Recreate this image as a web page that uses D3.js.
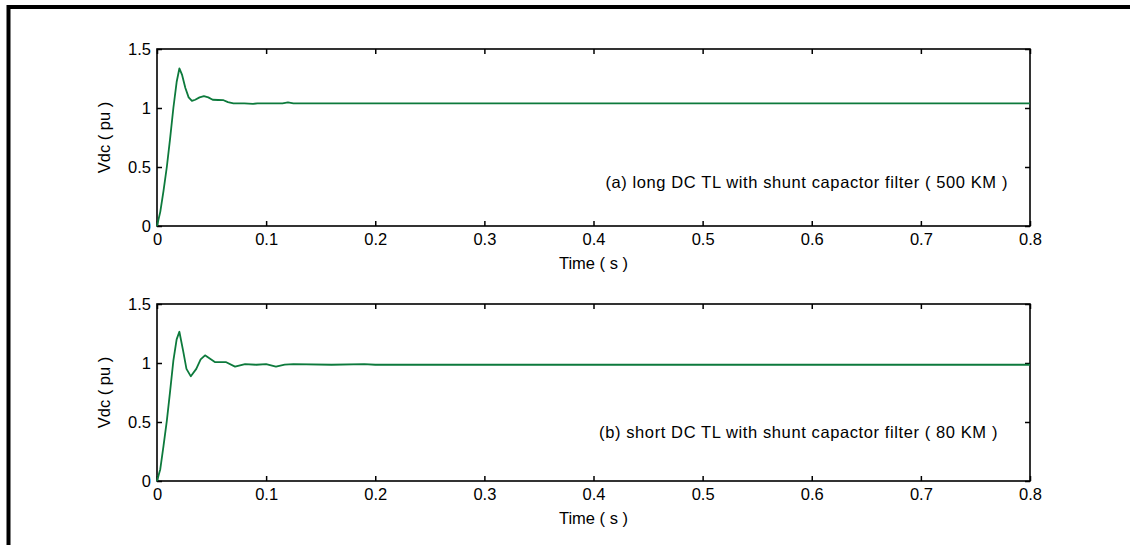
<!DOCTYPE html>
<html>
<head>
<meta charset="utf-8">
<script src="https://cdn.jsdelivr.net/npm/d3@7"></script>
<style>
  html, body { margin: 0; padding: 0; background: #fff; }
  svg { display: block; }
  text { font-family: "Liberation Sans", Arial, sans-serif; fill: #000; }
</style>
</head>
<body>
<svg id="chart" width="1130" height="545"></svg>
<script>
// DC-link voltage response, long line (500 km)
const timeLong = [0, 0.003, 0.006, 0.009, 0.012, 0.015, 0.018, 0.0205, 0.023, 0.026, 0.029, 0.032, 0.035,
  0.039, 0.043, 0.047, 0.051, 0.056, 0.061, 0.065, 0.070, 0.080, 0.088, 0.092, 0.10, 0.115, 0.12, 0.125, 0.20, 0.40, 0.60, 0.80];
const vdcLong = [0, 0.12, 0.30, 0.50, 0.74, 1.00, 1.22, 1.335, 1.28, 1.17, 1.09, 1.06, 1.07,
  1.09, 1.10, 1.09, 1.07, 1.068, 1.066, 1.05, 1.04, 1.04, 1.035, 1.04, 1.04, 1.04, 1.048, 1.04, 1.04, 1.04, 1.04, 1.04];

// DC-link voltage response, short line (80 km)
const timeShort = [0, 0.003, 0.006, 0.009, 0.012, 0.015, 0.018, 0.0205, 0.024, 0.027, 0.031, 0.036, 0.040,
  0.044, 0.048, 0.053, 0.063, 0.0715, 0.0807, 0.091, 0.10, 0.109, 0.117, 0.125, 0.16, 0.19, 0.20, 0.31, 0.50, 0.70, 0.80];
const vdcShort = [0, 0.10, 0.30, 0.51, 0.76, 1.02, 1.20, 1.265, 1.10, 0.95, 0.887, 0.95, 1.03,
  1.065, 1.04, 1.008, 1.008, 0.969, 0.99, 0.985, 0.99, 0.97, 0.987, 0.99, 0.985, 0.99, 0.985, 0.985, 0.985, 0.985, 0.985];

const xTicks = [0, 0.1, 0.2, 0.3, 0.4, 0.5, 0.6, 0.7, 0.8];
const yTicks = [0, 0.5, 1, 1.5];

const panels = [
  { t: timeLong, v: vdcLong, note: "(a) long DC TL with shunt capactor filter ( 500 KM )", top: 49, noteX: 1008, noteY: 188 },
  { t: timeShort, v: vdcShort, note: "(b) short DC TL with shunt capactor filter ( 80 KM )", top: 304, noteX: 998, noteY: 438 }
];

const svg = d3.select("#chart");
const left = 157, right = 1030, plotH = 177;
const lineColor = "#0d7a3c";
const tickLen = 5;
const fontSize = "16.5px";

// outer figure frame (left and top edges)
svg.append("path")
  .attr("d", "M8.5,545 V7 H1130")
  .attr("fill", "none").attr("stroke", "#000").attr("stroke-width", 4);

const x = d3.scaleLinear().domain([0, 0.8]).range([left, right]);
const fmt = d => d === 0 ? "0" : String(d);

panels.forEach(p => {
  const top = p.top, bottom = top + plotH;
  const y = d3.scaleLinear().domain([0, 1.5]).range([bottom, top]);
  const g = svg.append("g");

  // axes with inward ticks on all four sides
  g.append("g").attr("transform", `translate(0,${bottom})`)
    .call(d3.axisBottom(x).tickValues(xTicks).tickSize(-tickLen).tickPadding(7).tickFormat(fmt));
  g.append("g").attr("transform", `translate(0,${top})`)
    .call(d3.axisTop(x).tickValues(xTicks).tickSize(-tickLen).tickFormat(""));
  g.append("g").attr("transform", `translate(${left},0)`)
    .call(d3.axisLeft(y).tickValues(yTicks).tickSize(-tickLen).tickPadding(6).tickFormat(fmt));
  g.append("g").attr("transform", `translate(${right},0)`)
    .call(d3.axisRight(y).tickValues(yTicks).tickSize(-tickLen).tickFormat(""));

  g.selectAll(".domain").remove();
  g.selectAll(".tick line").attr("stroke", "#000").attr("stroke-width", 1.5);
  g.selectAll(".tick text").style("font-size", fontSize).style("font-family", "'Liberation Sans', Arial, sans-serif");

  // plot box
  g.append("rect")
    .attr("x", left).attr("y", top).attr("width", right - left).attr("height", plotH)
    .attr("fill", "none").attr("stroke", "#000").attr("stroke-width", 1.6);

  // voltage trace
  const data = p.t.map((t, i) => [t, p.v[i]]);
  g.append("path").datum(data)
    .attr("fill", "none").attr("stroke", lineColor).attr("stroke-width", 1.8)
    .attr("stroke-linejoin", "round")
    .attr("d", d3.line().x(d => x(d[0])).y(d => y(d[1])));

  // labels
  g.append("text").attr("x", (left + right) / 2).attr("y", bottom + 43)
    .attr("text-anchor", "middle").style("font-size", fontSize).text("Time ( s )");
  g.append("text").attr("transform", `translate(110,${(top + bottom) / 2}) rotate(-90)`)
    .attr("text-anchor", "middle").style("font-size", fontSize).text("Vdc ( pu )");
  g.append("text").attr("x", p.noteX).attr("y", p.noteY)
    .attr("text-anchor", "end").style("font-size", fontSize).style("letter-spacing", "0.6px")
    .text(p.note);
});
</script>
</body>
</html>
